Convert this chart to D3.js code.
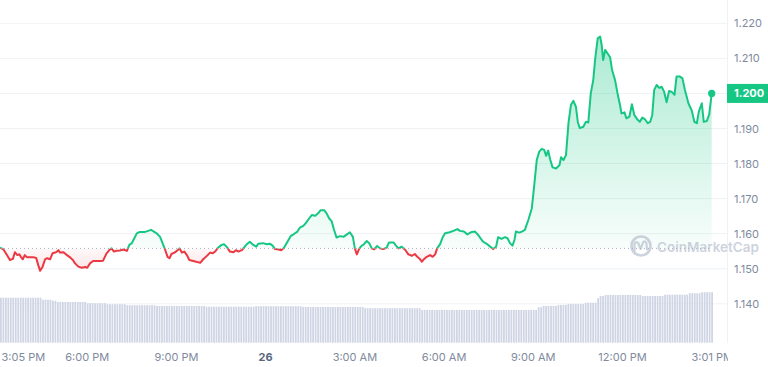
<!DOCTYPE html>
<html><head><meta charset="utf-8">
<script src="https://cdn.jsdelivr.net/npm/d3@7"></script>
<style>html,body{margin:0;padding:0;background:#fff;overflow:hidden}svg{display:block;font-family:Inter,"Noto Sans",sans-serif}</style>
</head><body><svg id="c" width="768" height="367"></svg>
<script>
// ---------- data ----------
const startTime = "2023-01-25T15:05";
const endTime = "2023-01-26T15:01";
const baselinePrice = 1.1558;
const lastPrice = 1.200;
const minutesSinceStart = [0,7,14,20,26,30,35,39,42,46,50,54,61,67,73,77,81,86,91,95,101,106,113,118,121,128,133,140,147,151,158,165,172,176,182,188,202,208,215,222,225,230,235,242,249,256,
261,266,270,276,282,293,299,305,309,316,323,328,333,338,342,346,352,357,362,367,372,377,382,390,398,404,410,417,424,429,434,440,447,452,457,464,471,476,481,488,
491,498,504,511,517,521,531,538,545,550,555,562,568,573,580,587,593,600,605,612,617,624,629,636,642,647,654,659,664,669,674,679,686,693,700,706,712,716,720,725,730,
733,740,745,750,755,761,767,773,780,785,794,799,804,810,817,824,831,837,842,847,851,856,861,868,873,878,882,888,893,898,907,915,923,928,936,943,950,958,965,972,
975,982,989,995,1001,1005,1012,1019,1024,1029,1034,1038,1041,1048,1053,1059,1066,1073,1077,1083,1088,1093,1098,1102,1106,1110,1115,1122,1129,1132,1137,1142,1147,1152,1157,1162,1166,1170,1177,1182,1187,1192,1197,
1201,1206,1211,1214,1217,1221,1226,1231,1235,1241,1246,1251,1254,1260,1264,1270,1275,1280,1287,1291,1296,1301,1307,1312,1316,1320,1325,1330,1335,1340,1345,1350,1355,1361,1365,1372,1377,1382,1389,1396,1401,1406,1410,1416,1420,1426,1431,1436];
const prices = [1.1560,1.1555,1.1539,1.1525,1.1528,1.1547,1.1539,1.1541,1.1534,1.1527,1.1539,1.1533,1.1533,1.1533,1.1531,1.1511,1.1494,1.1506,1.1527,1.1530,1.1527,1.1544,1.1547,1.1553,1.1546,1.1547,1.1541,1.1534,1.1525,1.1516,1.1506,1.1503,1.1505,1.1503,1.1516,1.1522,1.1522,1.1523,1.1544,1.1555,1.1558,1.1549,1.1551,1.1552,1.1555,1.1551,
1.1568,1.1573,1.1584,1.1601,1.1605,1.1605,1.1608,1.1611,1.1607,1.1601,1.1591,1.1573,1.1555,1.1534,1.1530,1.1542,1.1546,1.1551,1.1558,1.1546,1.1549,1.1539,1.1525,1.1522,1.1519,1.1517,1.1527,1.1536,1.1546,1.1544,1.1549,1.1560,1.1568,1.1570,1.1563,1.1549,1.1547,1.1553,1.1549,1.1553,
1.1558,1.1570,1.1577,1.1568,1.1563,1.1571,1.1573,1.1570,1.1571,1.1566,1.1556,1.1555,1.1553,1.1560,1.1577,1.1594,1.1599,1.1606,1.1617,1.1622,1.1630,1.1644,1.1653,1.1651,1.1658,1.1667,1.1667,1.1658,1.1644,1.1636,1.1611,1.1589,1.1593,1.1591,1.1598,1.1604,1.1591,1.1558,1.1541,1.1558,1.1566,
1.1568,1.1579,1.1573,1.1558,1.1555,1.1565,1.1558,1.1556,1.1560,1.1575,1.1575,1.1566,1.1558,1.1563,1.1555,1.1541,1.1537,1.1542,1.1534,1.1528,1.1520,1.1528,1.1534,1.1539,1.1534,1.1541,1.1558,1.1570,1.1589,1.1601,1.1604,1.1608,1.1613,1.1608,1.1606,1.1598,1.1604,1.1606,1.1596,1.1582,
1.1577,1.1571,1.1563,1.1556,1.1563,1.1590,1.1585,1.1590,1.1587,1.1573,1.1566,1.1582,1.1606,1.1603,1.1606,1.1611,1.1639,1.1672,1.1725,1.1810,1.1834,1.1842,1.1839,1.1822,1.1837,1.1812,1.1789,1.1786,1.1796,1.1818,1.1810,1.1824,1.1915,1.1967,1.1979,1.1962,1.1917,1.1901,1.1905,1.1919,1.1917,1.2000,1.2038,
1.2100,1.2157,1.2162,1.2138,1.2095,1.2124,1.2114,1.2103,1.2067,1.2038,1.2000,1.1967,1.1943,1.1946,1.1929,1.1934,1.1969,1.1938,1.1924,1.1919,1.1931,1.1927,1.1915,1.1919,1.1938,1.2010,1.2024,1.2016,1.2019,1.2005,1.1975,1.2007,1.2005,1.1996,1.2048,1.2048,1.2043,1.2010,1.1972,1.1950,1.1919,1.1915,1.1948,1.1972,1.1919,1.1921,1.1940,1.2000];
// 24h volume (millions), one bar per 5 minutes
const volumeIntervalMinutes = 5;
const volumes = [
180,180,180,180,180,180,180,180,180,180,180,180,180,180,180,180,180,
172,172,172,172,168,168,
163,163,163,163,163,163,163,163,163,163,163,163,
158,158,158,158,158,158,158,158,
154,154,154,154,154,154,154,154,
150,150,150,150,150,150,150,150,150,150,150,150,
147,147,147,147,147,147,147,147,147,147,147,147,147,147,147,147,147,147,147,147,
144,144,144,144,144,144,144,144,144,144,144,144,144,144,144,144,144,144,144,144,
146,146,146,146,146,146,146,146,146,146,146,146,146,146,146,146,146,146,146,
143,143,143,143,143,143,143,143,143,143,143,143,143,143,143,143,143,143,143,143,143,143,143,143,143,
138,138,138,138,138,138,138,138,138,138,138,138,138,138,138,138,138,138,138,138,138,138,138,
131,131,131,131,131,131,131,131,131,131,131,131,131,131,131,131,131,131,131,131,131,131,131,131,131,131,131,131,131,131,131,131,131,131,131,131,131,131,131,131,131,131,131,131,131,131,131,
142,142,147,147,147,147,147,147,151,151,151,151,
155,155,155,155,155,155,155,160,160,160,160,160,178,187,187,
191,191,191,191,191,191,191,191,191,191,191,191,191,191,191,
187,187,187,187,187,187,187,187,187,
192,192,192,192,192,192,192,192,192,192,
198,198,198,198,198,202,202,202,202,202];
const yTicks = [1.14,1.15,1.16,1.17,1.18,1.19,1.20,1.21,1.22];
const xTickTimes = ["2023-01-25T15:05","2023-01-25T18:00","2023-01-25T21:00","2023-01-26T00:00","2023-01-26T03:00","2023-01-26T06:00","2023-01-26T09:00","2023-01-26T12:00","2023-01-26T15:01"];
const xTickLabels = ["3:05 PM","6:00 PM","9:00 PM","26","3:00 AM","6:00 AM","9:00 AM","12:00 PM","3:01 PM"];

// ---------- setup ----------
const GREEN = "#16c784", RED = "#ea3943";
const parse = d3.timeParse("%Y-%m-%dT%H:%M");
const t0 = parse(startTime), t1 = parse(endTime);
const series = prices.map((p, i) => ({t: d3.timeMinute.offset(t0, minutesSinceStart[i]), p}));
const bars = volumes.map((v, i) => ({t: d3.timeMinute.offset(t0, i * volumeIntervalMinutes), v}));

const plotRight = 727;
const x = d3.scaleTime().domain([t0, t1]).range([0, 711.7]);
const y = d3.scaleLinear().domain([1.14, 1.22]).range([303.8, 23.3]);
const yv = d3.scaleLinear().domain([0, 240]).range([342.7, 282.7]);

const svg = d3.select("#c");
const defs = svg.append("defs");
const by = y(baselinePrice);

defs.append("clipPath").attr("id","above").append("rect").attr("x",-5).attr("y",0).attr("width",740).attr("height",by);
defs.append("clipPath").attr("id","below").append("rect").attr("x",-5).attr("y",by).attr("width",740).attr("height",367-by);
defs.append("clipPath").attr("id","plotclip").append("rect").attr("x",-40).attr("y",0).attr("width",plotRight+1+40).attr("height",367);

const gg = defs.append("linearGradient").attr("id","gGreen").attr("gradientUnits","userSpaceOnUse")
  .attr("x1",0).attr("x2",0).attr("y1",y(d3.max(prices))).attr("y2",by);
gg.append("stop").attr("offset",0).attr("stop-color",GREEN).attr("stop-opacity",0.36);
gg.append("stop").attr("offset",1).attr("stop-color",GREEN).attr("stop-opacity",0.03);
const gr = defs.append("linearGradient").attr("id","gRed").attr("gradientUnits","userSpaceOnUse")
  .attr("x1",0).attr("x2",0).attr("y1",by).attr("y2",y(d3.min(prices)));
gr.append("stop").attr("offset",0).attr("stop-color",RED).attr("stop-opacity",0.03);
gr.append("stop").attr("offset",1).attr("stop-color",RED).attr("stop-opacity",0.14);

// grid
svg.append("g").selectAll("line").data(yTicks).join("line")
  .attr("x1",0).attr("x2",plotRight).attr("y1",d=>y(d)).attr("y2",d=>y(d))
  .attr("stroke","#eff2f5").attr("stroke-width",1);
svg.append("line").attr("x1",plotRight+0.5).attr("x2",plotRight+0.5).attr("y1",0).attr("y2",343)
  .attr("stroke","#eff2f5");

// volume bars
const pitch = x(d3.timeMinute.offset(t0, volumeIntervalMinutes)) - x(t0);
svg.append("g").selectAll("rect").data(bars).join("rect")
  .attr("x", d => x(d.t)).attr("width", pitch - 0.7)
  .attr("y", d => yv(d.v)).attr("height", d => yv(0) - yv(d.v))
  .attr("fill", "#cfd5e4");

// areas
const area = d3.area().x(d=>x(d.t)).y0(by).y1(d=>y(d.p));
svg.append("path").datum(series).attr("d",area).attr("fill","url(#gGreen)").attr("clip-path","url(#above)");
svg.append("path").datum(series).attr("d",area).attr("fill","url(#gRed)").attr("clip-path","url(#below)");

// baseline dotted
svg.append("line").attr("x1",0).attr("x2",x(t1)).attr("y1",by).attr("y2",by)
  .attr("stroke","#a6b0c3").attr("stroke-width",1).attr("stroke-dasharray","1,3");

// watermark
const wm = svg.append("g").attr("opacity",0.55);
wm.append("circle").attr("cx",641).attr("cy",246).attr("r",9.5).attr("fill","none").attr("stroke","#a6b0c3").attr("stroke-width",2.6);
wm.append("path").attr("d","M634.5,251 L634.5,244 Q636,240.5 638.5,243.5 L640.5,249 L643,242.5 Q645,240 646.5,243.5 L647,249.5")
  .attr("fill","none").attr("stroke","#a6b0c3").attr("stroke-width",2.2).attr("stroke-linecap","round").attr("stroke-linejoin","round");
const wmText = wm.append("text").attr("x",657).attr("y",247).attr("dy","0.36em").attr("font-size",16).attr("font-weight",600)
  .attr("fill","#a6b0c3").text("CoinMarketCap");
const natural = wmText.node().getComputedTextLength();
if (natural > 0) wmText.attr("font-size", 16 * 102 / natural);

// lines
const line = d3.line().x(d=>x(d.t)).y(d=>y(d.p));
svg.append("path").datum(series).attr("d",line).attr("fill","none").attr("stroke",GREEN).attr("stroke-width",2)
  .attr("stroke-linejoin","round").attr("clip-path","url(#above)");
svg.append("path").datum(series).attr("d",line).attr("fill","none").attr("stroke",RED).attr("stroke-width",2)
  .attr("stroke-linejoin","round").attr("clip-path","url(#below)");

// end dot
const last = series[series.length-1];
svg.append("circle").attr("cx",x(last.t)).attr("cy",y(last.p)).attr("r",3.6).attr("fill",GREEN);

// y axis (the tick under the current-price tag is covered by the tag)
const yAxis = d3.axisRight(y).tickValues(yTicks.filter(v => Math.abs(v - lastPrice) > 1e-9))
  .tickFormat(d3.format(".3f")).tickSize(0).tickPadding(0);
const ya = svg.append("g").attr("transform",`translate(734,0)`).call(yAxis);
ya.select(".domain").remove();
ya.selectAll("text").attr("font-size",11).attr("fill","#808a9d").attr("font-family","Inter");

// current price tag
svg.append("rect").attr("x",plotRight).attr("y",y(lastPrice)-9.5).attr("width",768-plotRight).attr("height",19).attr("fill",GREEN);
svg.append("text").attr("x",734).attr("y",y(lastPrice)).attr("dy","0.35em").attr("font-size",11).attr("font-weight",700)
  .attr("fill","#fff").text(d3.format(".3f")(lastPrice));

// x axis
const xa = svg.append("g").attr("clip-path","url(#plotclip)")
  .append("g").attr("transform","translate(0,346)")
  .call(d3.axisBottom(x).tickValues(xTickTimes.map(parse)).tickFormat((d,i)=>xTickLabels[i]).tickSize(0).tickPadding(7));
xa.select(".domain").remove();
xa.selectAll("text").attr("font-size",11).attr("font-family","Inter")
  .attr("font-weight",(d,i)=>xTickLabels[i]==="26"?700:400)
  .attr("fill",(d,i)=>xTickLabels[i]==="26"?"#58667e":"#808a9d");
xa.selectAll(".tick").filter((d,i)=>i===0).select("text").attr("text-anchor","start").attr("x",1);
</script></body></html>
